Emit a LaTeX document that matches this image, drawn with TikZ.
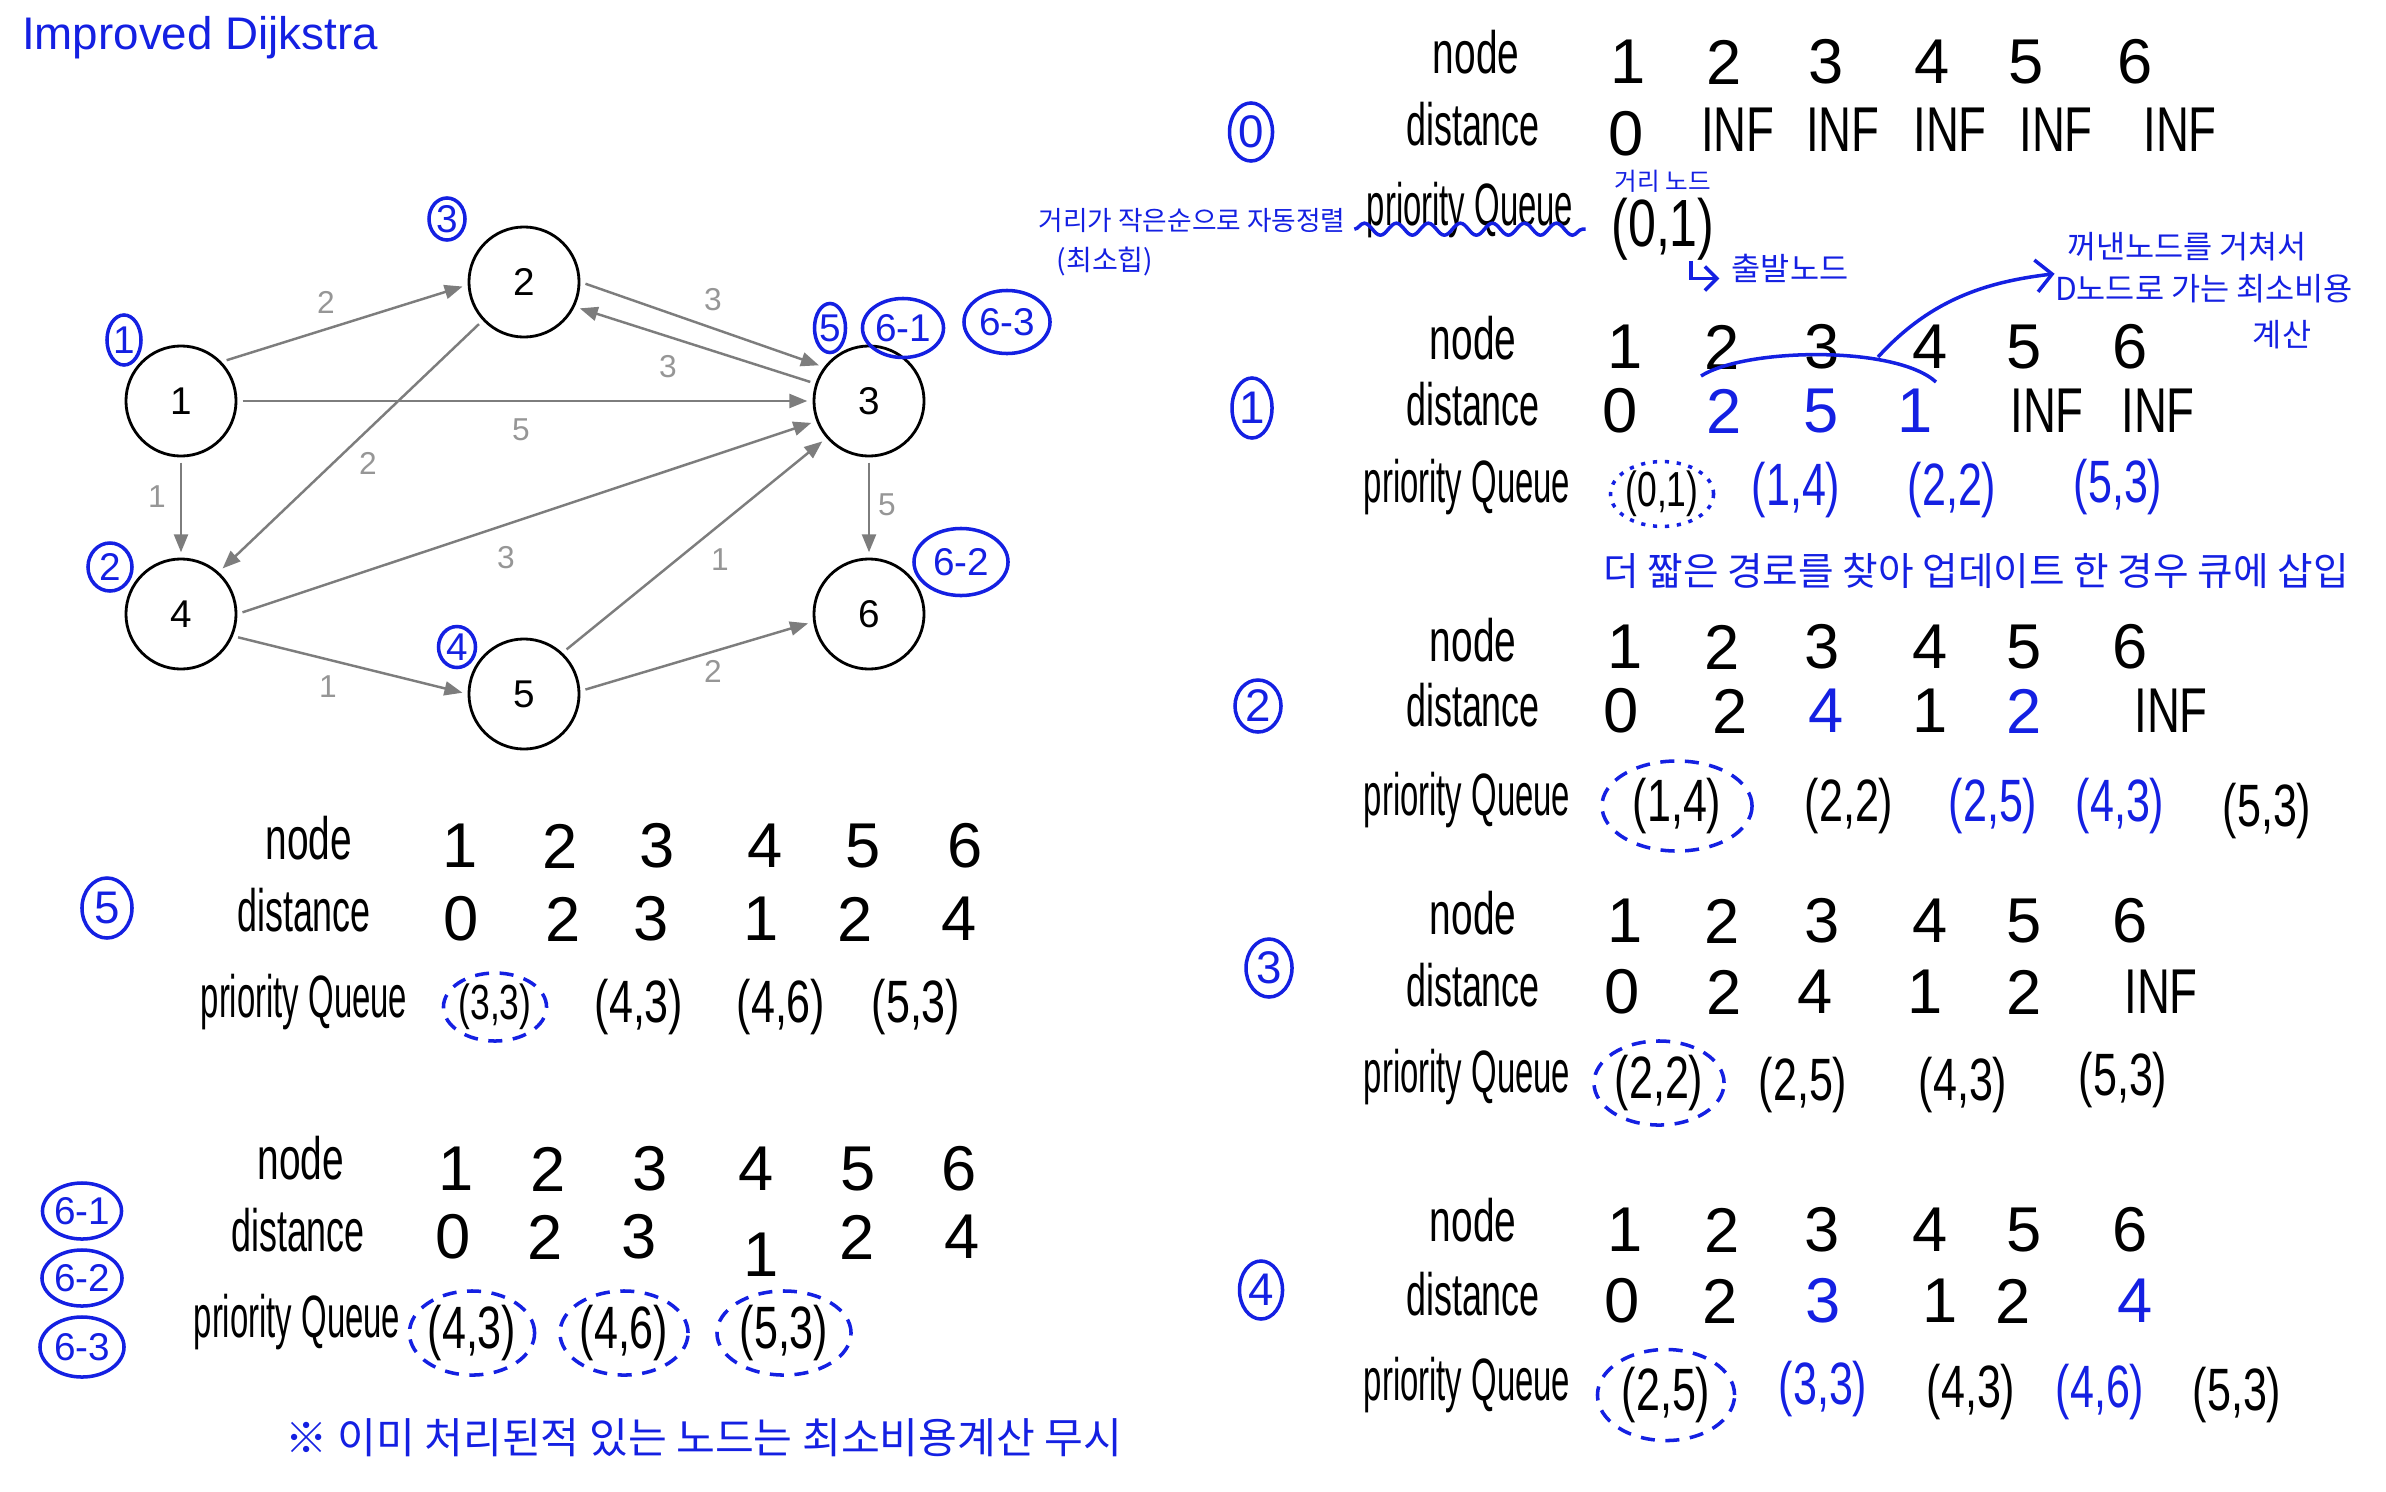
\documentclass[tikz,border=0pt]{standalone}
\usepackage{fontspec}
\setmainfont{Liberation Sans}
\newfontfamily\krfont{Noto Sans CJK KR}
\usepackage{xcolor}
\usepackage{graphicx}
\usepackage{tikz}
\usetikzlibrary{shapes, arrows.meta, positioning, decorations.pathmorphing}

\definecolor{penblue}{RGB}{20,32,226}
\definecolor{edgegray}{RGB}{125,125,125}
\definecolor{weightgray}{RGB}{150,150,150}
\newcommand{\slim}[2][0.72]{\scalebox{#1}[1]{#2}}

\begin{document}
\begin{tikzpicture}
  [
    x=0.01cm, y=-0.01cm,
    Vertex/.style={circle, draw=black, line width=0.8pt, minimum size=1.1cm, inner sep=0pt, font=\fontsize{11}{13}\selectfont},
    Edge/.style={draw=edgegray, line width=0.7pt, -{Triangle[length=1.8mm, width=1.4mm]}, shorten <=1.5pt, shorten >=1.5pt},
    Weight/.style={text=weightgray, font=\fontsize{9}{11}\selectfont},
    Mark/.style={ellipse, draw=penblue, line width=1pt, text=penblue, inner sep=0pt, font=\fontsize{11}{13}\selectfont},
    Row/.style={font=\fontsize{17}{20}\selectfont},
    Num/.style={font=\fontsize{18}{21}\selectfont},
    Pair/.style={font=\fontsize{17}{20}\selectfont},
    Picked/.style={ellipse, draw=penblue, line width=1pt, dash pattern=on 4pt off 3pt, inner sep=0pt},
    Note/.style={text=penblue, font=\krfont\fontsize{9}{11}\selectfont},
    Pen/.style={draw=penblue, line width=1pt}
  ]
  \useasboundingbox (0,0) rectangle (2386,1491);

  % Title
  \node[text=penblue, font=\fontsize{13}{15}\selectfont] (title) at (200,38) {Improved Dijkstra};

  % Nodes
  \node[Vertex] (v1) at (181,401) {1};
  \node[Vertex] (v2) at (524,282) {2};
  \node[Vertex] (v3) at (869,401) {3};
  \node[Vertex] (v4) at (181,614) {4};
  \node[Vertex] (v5) at (524,694) {5};
  \node[Vertex] (v6) at (869,614) {6};

  % Lines
  \path[Edge] (v1.44) -- (v2.183);
  \path[Edge] (v2.0) -- (v3.143);
  \path[Edge] (v3.162) -- (v2.-26);
  \path[Edge] (v1.0) -- (v3.180);
  \path[Edge] (v1.270) -- (v4.90);
  \path[Edge] (v2.223) -- (v4.48);
  \path[Edge] (v4.0) -- (v3.201);
  \path[Edge] (v4.-23) -- (v5.180);
  \path[Edge] (v5.47) -- (v3.221);
  \path[Edge] (v5.3) -- (v6.188);
  \path[Edge] (v3.270) -- (v6.90);

  % Weights
  \node[Weight] (w12) at (326,302) {2};
  \node[Weight] (w23) at (713,300) {3};
  \node[Weight] (w32) at (668,367) {3};
  \node[Weight] (w13) at (521,430) {5};
  \node[Weight] (w24) at (368,463) {2};
  \node[Weight] (w14) at (157,497) {1};
  \node[Weight] (w43) at (506,558) {3};
  \node[Weight] (w53) at (720,560) {1};
  \node[Weight] (w36) at (887,505) {5};
  \node[Weight] (w45) at (328,687) {1};
  \node[Weight] (w56) at (713,671) {2};

  % Order marks
  \node[Mark, minimum width=0.34cm, minimum height=0.5cm] (m1) at (124,340) {1};
  \node[Mark, minimum width=0.36cm, minimum height=0.42cm] (m3) at (447,219) {3};
  \node[Mark, minimum width=0.31cm, minimum height=0.49cm] (m5) at (830,328) {5};
  \node[Mark, minimum width=0.81cm, minimum height=0.59cm] (m61) at (903,328) {6-1};
  \node[Mark, minimum width=0.86cm, minimum height=0.63cm] (m63) at (1007,322) {6-3};
  \node[Mark, minimum width=0.44cm, minimum height=0.48cm] (m2) at (110,567) {2};
  \node[Mark, minimum width=0.37cm, minimum height=0.41cm] (m4) at (457,647) {4};
  \node[Mark, minimum width=0.94cm, minimum height=0.67cm] (m62) at (961,562) {6-2};

  % Step 0
  \node[Mark, minimum width=0.43cm, minimum height=0.58cm, font=\fontsize{13}{15}\selectfont] (s0) at (1251,132) {0};
  \node[Row] (t0node) at (1476,52) {\slim[0.65]{node}};
  \node[Row] (t0dist) at (1473,124) {\slim[0.6]{distance}};
  \foreach \i/\x in {1/1628,2/1724,3/1826,4/1932,5/2026,6/2135}
    \node[Num] (t0n\i) at (\x,62) {\i};
  \node[Num] (t0d1) at (1626,134) {0};
  \foreach \i/\x in {2/1738,3/1843,4/1950,5/2056,6/2180}
    \node[Num] (t0d\i) at (\x,130) {\slim{INF}};

  % Queue
  \node[Row] (q0name) at (1470,210) {\slim[0.55]{priority Queue}};
  \path[Pen, decorate, decoration={snake, amplitude=0.6mm, segment length=3.2mm}] ([yshift=6pt]q0name.south west) -- ([yshift=6pt]q0name.south east);
  \node[Num, inner sep=0pt, font=\fontsize{19}{23}\selectfont] (q0) at (1663,229) {\slim[0.75]{(0,1)}};
  \node[Note, font=\krfont\fontsize{7}{8}\selectfont] (q0head) at (1663,181) {거리 노드};
  \node[Note, font=\krfont\fontsize{7.6}{9}\selectfont] (sorted) at (1192,221) {거리가 작은순으로 자동정렬};
  \node[Note, font=\krfont\fontsize{8}{9}\selectfont] (minheap) at (1105,262) {(최소힙)};
  \node[Note] (origin) at (1790,268) {출발노드};
  \draw[Pen, -{Straight Barb[length=1.2mm]}] ([xshift=8pt]q0.south) |- ([yshift=-3pt]origin.west);

  % Step 1
  \node[Mark, minimum width=0.4cm, minimum height=0.6cm, font=\fontsize{13}{15}\selectfont] (s1) at (1252,408) {1};
  \node[Row] (t1node) at (1473,338) {\slim[0.65]{node}};
  \node[Row] (t1dist) at (1473,404) {\slim[0.6]{distance}};
  \node[Row] (t1queue) at (1467,487) {\slim[0.55]{priority Queue}};
  \foreach \i/\x in {1/1625,2/1722,3/1822,4/1930,5/2024,6/2130}
    \node[Num] (t1n\i) at (\x,347) {\i};
  \foreach \i/\x/\v/\col in {1/1620/0/black, 2/1724/2/penblue, 3/1821/5/penblue, 4/1915/1/penblue, 5/2047/\slim{INF}/black, 6/2158/\slim{INF}/black}
    \node[Num, text=\col] (t1d\i) at (\x,411) {\v};
  \node[Pair, Picked, dash pattern=on 1.2pt off 2.2pt, minimum width=0.92cm, minimum height=0.62cm, font=\fontsize{14}{16}\selectfont] (q1a) at (1662,494) {\slim{(0,1)}};
  \node[Pair, text=penblue] (q1b) at (1796,490) {\slim{(1,4)}};
  \node[Pair, text=penblue] (q1c) at (1952,490) {\slim{(2,2)}};
  \node[Pair, text=penblue] (q1d) at (2118,487) {\slim{(5,3)}};
  \coordinate (arcL) at (1701,376);
  \coordinate (arcR) at (1936,382);
  \draw[Pen] (arcL) .. controls (1745,348) and (1895,345) .. (arcR);
  \coordinate (via) at (1878,357);
  \node[Note] (via1) at (2187,247) {꺼낸노드를 거쳐서};
  \node[Note] (via2) at (2204,289) {D노드로 가는 최소비용};
  \node[Note] (via3) at (2282,335) {계산};
  \draw[Pen, -{Straight Barb[length=1.6mm]}] (via) .. controls (1930,300) and (1985,282) .. (via1.south west);
  \node[Note, font=\krfont\fontsize{11}{13}\selectfont] (update) at (1976,571) {더 짧은 경로를 찾아 업데이트 한 경우 큐에 삽입};

  % Step 2
  \node[Mark, minimum width=0.46cm, minimum height=0.52cm, font=\fontsize{13}{15}\selectfont] (s2) at (1258,706) {2};
  \node[Row] (t2node) at (1473,640) {\slim[0.65]{node}};
  \node[Row] (t2dist) at (1473,705) {\slim[0.6]{distance}};
  \node[Row] (t2queue) at (1467,800) {\slim[0.55]{priority Queue}};
  \foreach \i/\x in {1/1625,2/1722,3/1822,4/1930,5/2024,6/2130}
    \node[Num] (t2n\i) at (\x,647) {\i};
  \foreach \i/\x/\v/\col in {1/1621/0/black, 2/1730/2/black, 3/1826/4/penblue, 4/1930/1/black, 5/2024/2/penblue, 6/2171/\slim{INF}/black}
    \node[Num, text=\col] (t2d\i) at (\x,711) {\v};
  \node[Pair, Picked, minimum width=1.5cm, minimum height=0.9cm] (q2a) at (1677,806) {\slim{(1,4)}};
  \node[Pair] (q2b) at (1849,806) {\slim{(2,2)}};
  \node[Pair, text=penblue] (q2c) at (1993,806) {\slim{(2,5)}};
  \node[Pair, text=penblue] (q2d) at (2120,806) {\slim{(4,3)}};
  \node[Pair] (q2e) at (2267,811) {\slim{(5,3)}};

  % Step 3
  \node[Mark, minimum width=0.46cm, minimum height=0.58cm, font=\fontsize{13}{15}\selectfont] (s3) at (1269,968) {3};
  \node[Row] (t3node) at (1473,913) {\slim[0.65]{node}};
  \node[Row] (t3dist) at (1473,985) {\slim[0.6]{distance}};
  \node[Row] (t3queue) at (1467,1077) {\slim[0.55]{priority Queue}};
  \foreach \i/\x in {1/1625,2/1722,3/1822,4/1930,5/2024,6/2130}
    \node[Num] (t3n\i) at (\x,921) {\i};
  \foreach \i/\x/\v in {1/1622/0, 2/1724/2, 3/1815/4, 4/1925/1, 5/2024/2, 6/2161/\slim{INF}}
    \node[Num] (t3d\i) at (\x,992) {\v};
  \node[Pair, Picked, minimum width=1.3cm, minimum height=0.84cm] (q3a) at (1659,1083) {\slim{(2,2)}};
  \node[Pair] (q3b) at (1803,1085) {\slim{(2,5)}};
  \node[Pair] (q3c) at (1963,1085) {\slim{(4,3)}};
  \node[Pair] (q3d) at (2123,1080) {\slim{(5,3)}};

  % Step 4
  \node[Mark, minimum width=0.43cm, minimum height=0.58cm, font=\fontsize{13}{15}\selectfont] (s4) at (1261,1290) {4};
  \node[Row] (t4node) at (1473,1220) {\slim[0.65]{node}};
  \node[Row] (t4dist) at (1473,1294) {\slim[0.6]{distance}};
  \node[Row] (t4queue) at (1467,1385) {\slim[0.55]{priority Queue}};
  \foreach \i/\x in {1/1625,2/1722,3/1822,4/1930,5/2024,6/2130}
    \node[Num] (t4n\i) at (\x,1230) {\i};
  \foreach \i/\x/\v/\col in {1/1622/0/black, 2/1720/2/black, 3/1823/3/penblue, 4/1940/1/black, 5/2013/2/black, 6/2135/4/penblue}
    \node[Num, text=\col] (t4d\i) at (\x,1301) {\v};
  \node[Pair, Picked, minimum width=1.37cm, minimum height=0.91cm] (q4a) at (1666,1395) {\slim{(2,5)}};
  \node[Pair, text=penblue] (q4b) at (1823,1389) {\slim{(3,3)}};
  \node[Pair] (q4c) at (1971,1392) {\slim{(4,3)}};
  \node[Pair, text=penblue] (q4d) at (2100,1392) {\slim{(4,6)}};
  \node[Pair] (q4e) at (2237,1395) {\slim{(5,3)}};

  % Step 5
  \node[Mark, minimum width=0.5cm, minimum height=0.6cm, font=\fontsize{13}{15}\selectfont] (s5) at (107,908) {5};
  \node[Row] (t5node) at (309,838) {\slim[0.65]{node}};
  \node[Row] (t5dist) at (304,910) {\slim[0.6]{distance}};
  \node[Row] (t5queue) at (304,1002) {\slim[0.55]{priority Queue}};
  \foreach \i/\x in {1/460,2/560,3/657,4/765,5/863,6/965}
    \node[Num] (t5n\i) at (\x,846) {\i};
  \foreach \i/\x/\v in {1/461/0, 2/563/2, 3/651/3, 4/761/1, 5/855/2, 6/959/4}
    \node[Num] (t5d\i) at (\x,919) {\v};
  \node[Pair, Picked, minimum width=1.0cm, minimum height=0.68cm, font=\fontsize{14}{16}\selectfont] (q5a) at (495,1007) {\slim{(3,3)}};
  \node[Pair] (q5b) at (639,1007) {\slim{(4,3)}};
  \node[Pair] (q5c) at (781,1007) {\slim{(4,6)}};
  \node[Pair] (q5d) at (916,1007) {\slim{(5,3)}};

  % Step 6
  \node[Mark, minimum width=0.78cm, minimum height=0.56cm] (s61) at (82,1211) {6-1};
  \node[Mark, minimum width=0.8cm, minimum height=0.56cm] (s62) at (82,1278) {6-2};
  \node[Mark, minimum width=0.84cm, minimum height=0.6cm] (s63) at (82,1347) {6-3};
  \node[Row] (t6node) at (301,1158) {\slim[0.65]{node}};
  \node[Row] (t6dist) at (298,1230) {\slim[0.6]{distance}};
  \node[Row] (t6queue) at (297,1322) {\slim[0.55]{priority Queue}};
  \foreach \i/\x in {1/456,2/548,3/650,4/756,5/858,6/959}
    \node[Num] (t6n\i) at (\x,1169) {\i};
  \foreach \i/\x/\y in {1/453/1237, 2/545/1237, 3/639/1237, 4/761/1255, 5/857/1237, 6/962/1237}
    \node[Num] (t6d\i) at (\x,\y) {\ifcase\i\or 0\or 2\or 3\or 1\or 2\or 4\fi};
  \node[Pair, Picked, minimum width=1.11cm, minimum height=0.84cm] (q6a) at (472,1333) {\slim{(4,3)}};
  \node[Pair, Picked, minimum width=1.28cm, minimum height=0.84cm] (q6b) at (624,1333) {\slim{(4,6)}};
  \node[Pair, Picked, minimum width=1.34cm, minimum height=0.84cm] (q6c) at (784,1333) {\slim{(5,3)}};

  % Note
  \node[Note, font=\krfont\fontsize{12}{14}\selectfont] (ignore) at (704,1438) {※ 이미 처리된적 있는 노드는 최소비용계산 무시};

\end{tikzpicture}
\end{document}
